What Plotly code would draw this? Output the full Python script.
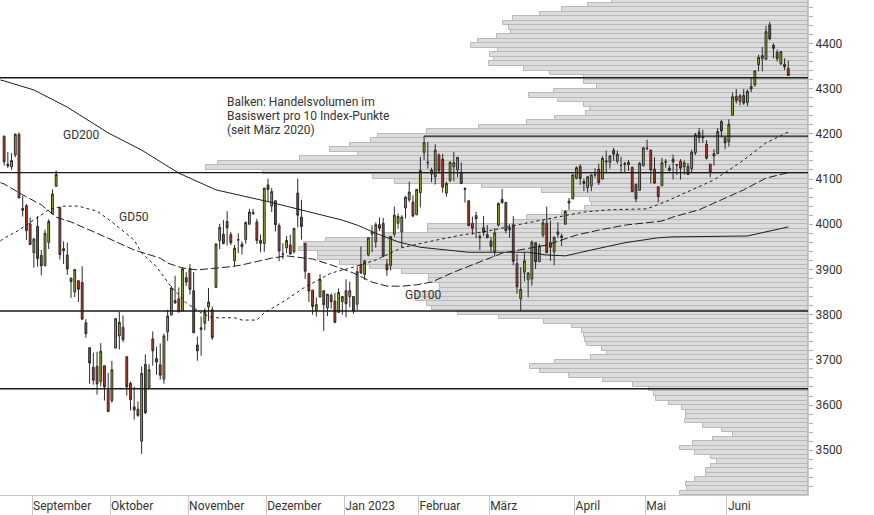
import pandas as pd
import plotly.graph_objects as go

# ---------------- data ----------------
holidays = ["2022-09-05", "2022-11-24", "2022-12-26", "2023-01-02", "2023-01-16",
            "2023-02-20", "2023-04-07", "2023-05-29", "2023-06-19"]
dates = pd.bdate_range("2022-08-22", "2023-06-26", freq="C", holidays=holidays)

month_labels = ["September", "Oktober", "November", "Dezember", "Jan 2023",
                "Februar", "März", "April", "Mai", "Juni"]

opens = [4195, 4133, 4127, 4153, 4199, 4035, 4041, 4001,
         3937, 3995, 3931, 3909, 3960, 4023, 4084, 4037, 3941, 3932, 3881, 3850, 3875, 3871, 3782, 3727, 3683, 3686, 3652, 3687, 3633,
         3610, 3726, 3753, 3772, 3707, 3648, 3596, 3591, 3520, 3690, 3639, 3746, 3703, 3689, 3657, 3762, 3799, 3826, 3835, 3808, 3882,
         3902, 3853, 3733, 3767, 3781, 3817, 3811, 3860, 3964, 3978, 4006, 3977, 3919, 3966, 3956, 3966, 4000, 4023, 4005, 3964, 3957,
         4087, 4040, 4052, 3997, 3933, 3948, 3954, 3939, 4069, 4016, 3958, 3891, 3854, 3810, 3839, 3853, 3815, 3843, 3830, 3805, 3829,
         3853, 3840, 3840, 3823, 3911, 3889, 3932, 3978, 3961, 3999, 4002, 3912, 3909, 3978, 4002, 3983, 4036, 4054, 4049, 4021,
         4070, 4159, 4137, 4120, 4105, 4153, 4144, 4069, 4097, 4127, 4120, 4115, 4077, 4052, 4002, 4019, 3973, 3992, 3977,
         3963, 3939, 3998, 4055, 4048, 3988, 3999, 3913, 3835, 3894, 3877, 3879, 3959, 3917, 3976, 4002, 3959, 3939, 3983, 3974, 4000, 4047, 4056,
         4102, 4128, 4095, 4081, 4085, 4110, 4122, 4100, 4140, 4137, 4164, 4139, 4130, 4132, 4132, 4126, 4088, 4075, 4130,
         4167, 4164, 4122, 4083, 4085, 4137, 4124, 4144, 4132, 4139, 4127, 4128, 4123, 4158, 4204, 4191, 4177, 4133, 4156, 4156, 4227, 4191,
         4183, 4241, 4283, 4272, 4285, 4269, 4305, 4308, 4353, 4366, 4365, 4441, 4396, 4380, 4355, 4354, 4345]
highs = [4195, 4160, 4157, 4201, 4203, 4063, 4045, 4015,
         3970, 4018, 3943, 3988, 4011, 4077, 4119, 4037, 3962, 3959, 3881, 3900, 3876, 3907, 3790, 3727, 3716, 3718, 3737, 3687, 3671,
         3698, 3792, 3807, 3798, 3707, 3652, 3641, 3608, 3685, 3712, 3690, 3763, 3729, 3736, 3758, 3811, 3863, 3886, 3860, 3905, 3894,
         3912, 3894, 3751, 3796, 3814, 3859, 3818, 3958, 4001, 4009, 4029, 3983, 3954, 3980, 3962, 4006, 4034, 4034, 4012, 3977, 4080,
         4101, 4080, 4052, 4002, 3958, 3974, 3977, 3991, 4101, 4054, 3958, 3891, 3855, 3838, 3890, 3853, 3846, 3847, 3848, 3858, 3840,
         3878, 3873, 3840, 3906, 3951, 3920, 3970, 3998, 4004, 4015, 4014, 3923, 3973, 4039, 4024, 4020, 4062, 4094, 4064, 4077,
         4149, 4195, 4182, 4125, 4177, 4157, 4156, 4094, 4139, 4160, 4148, 4137, 4082, 4052, 4017, 4028, 3978, 4018, 3998,
         3972, 3991, 4048, 4078, 4050, 4000, 4018, 3934, 3905, 3937, 3894, 3964, 3959, 3957, 4009, 4039, 4008, 3973, 4004, 3979, 4031, 4058, 4111,
         4128, 4133, 4100, 4107, 4110, 4124, 4134, 4150, 4163, 4152, 4169, 4163, 4149, 4138, 4142, 4126, 4090, 4138, 4170,
         4187, 4164, 4148, 4083, 4147, 4144, 4130, 4154, 4133, 4144, 4141, 4136, 4165, 4202, 4213, 4209, 4186, 4133, 4166, 4213, 4231, 4195,
         4232, 4291, 4299, 4288, 4299, 4298, 4323, 4340, 4375, 4392, 4439, 4448, 4400, 4386, 4382, 4367, 4362]
lows = [4130, 4124, 4120, 4148, 4058, 4017, 3965, 3955,
        3904, 3906, 3887, 3906, 3945, 4023, 4084, 3922, 3912, 3888, 3837, 3839, 3828, 3789, 3749, 3647, 3645, 3623, 3641, 3610, 3584,
        3605, 3726, 3723, 3739, 3621, 3588, 3568, 3574, 3492, 3580, 3639, 3687, 3667, 3656, 3647, 3742, 3799, 3824, 3804, 3808, 3863,
        3844, 3759, 3698, 3709, 3765, 3786, 3744, 3860, 3945, 3956, 3953, 3954, 3907, 3936, 3933, 3957, 3999, 4021, 3956, 3938, 3939,
        4051, 4027, 3984, 3918, 3923, 3936, 3933, 3935, 3993, 3966, 3879, 3828, 3800, 3796, 3839, 3764, 3797, 3813, 3781, 3805, 3800,
        3794, 3816, 3802, 3810, 3890, 3877, 3929, 3938, 3948, 3985, 3927, 3886, 3898, 3972, 3990, 3949, 4013, 4049, 4016, 4020,
        4037, 4142, 4123, 4093, 4088, 4112, 4070, 4061, 4093, 4095, 4104, 4089, 4048, 3995, 3977, 3969, 3943, 3974, 3969,
        3939, 3928, 3995, 4045, 3980, 3970, 3909, 3846, 3809, 3874, 3838, 3864, 3901, 3917, 3971, 3936, 3919, 3909, 3970, 3952, 4000, 4032, 4056,
        4099, 4087, 4073, 4070, 4073, 4103, 4087, 4099, 4113, 4123, 4140, 4134, 4115, 4114, 4118, 4071, 4049, 4075, 4127,
        4164, 4090, 4089, 4048, 4085, 4125, 4117, 4099, 4109, 4099, 4110, 4110, 4114, 4153, 4180, 4180, 4143, 4104, 4130, 4156, 4192, 4166,
        4172, 4241, 4267, 4263, 4264, 4261, 4292, 4304, 4338, 4338, 4363, 4407, 4367, 4360, 4352, 4341, 4328]
closes = [4138, 4129, 4141, 4199, 4058, 4031, 3986, 3955,
          3967, 3924, 3908, 3980, 4006, 4067, 4110, 3933, 3946, 3901, 3873, 3900, 3856, 3790, 3758, 3693, 3655, 3647, 3719, 3640, 3586,
          3678, 3791, 3783, 3745, 3640, 3612, 3589, 3577, 3670, 3583, 3678, 3720, 3695, 3666, 3753, 3797, 3859, 3831, 3807, 3901, 3872,
          3856, 3760, 3720, 3771, 3807, 3828, 3749, 3956, 3993, 3957, 3992, 3959, 3947, 3965, 3950, 4004, 4027, 4026, 3964, 3958, 4080,
          4077, 4072, 3999, 3941, 3934, 3964, 3934, 3991, 4020, 3995, 3896, 3852, 3818, 3822, 3878, 3822, 3845, 3829, 3783, 3849, 3840,
          3824, 3853, 3808, 3895, 3892, 3919, 3970, 3983, 3999, 3991, 3929, 3899, 3973, 4020, 4017, 4016, 4060, 4071, 4018, 4077,
          4119, 4180, 4136, 4111, 4164, 4118, 4082, 4090, 4137, 4136, 4148, 4090, 4079, 3997, 3991, 4012, 3970, 3982, 3970,
          3951, 3981, 4046, 4048, 3986, 3992, 3918, 3862, 3856, 3919, 3892, 3960, 3917, 3952, 4003, 3937, 3949, 3971, 3978, 3971, 4028, 4051, 4109,
          4125, 4101, 4090, 4105, 4109, 4109, 4092, 4146, 4138, 4151, 4155, 4155, 4130, 4134, 4137, 4072, 4056, 4135, 4169,
          4168, 4120, 4091, 4061, 4136, 4138, 4119, 4138, 4131, 4124, 4136, 4110, 4159, 4198, 4192, 4193, 4146, 4115, 4151, 4205, 4206, 4180,
          4221, 4282, 4274, 4284, 4268, 4294, 4299, 4339, 4369, 4373, 4426, 4410, 4389, 4366, 4382, 4348, 4329]

# moving averages (trading-day number, value)
gd200_day = [-1, 0, 8, 17, 28, 37, 47, 57, 71, 80, 86, 91, 95, 100, 106, 112, 125, 141, 146, 151, 158, 167, 176, 180, 200, 211]
gd200_val = [4319, 4317, 4297, 4259, 4202, 4164, 4113, 4076, 4050, 4032, 4020, 4009, 3998, 3980, 3961, 3949, 3938, 3938,
             3932, 3930, 3943, 3959, 3970, 3972, 3974, 3994]
gd100_day = [-1, 0, 5, 10, 14, 18, 25, 35, 42, 44, 48, 52, 61, 64, 72, 76, 83, 88, 94, 99, 103, 107, 111, 115, 121, 128,
             134, 142, 146, 154, 160, 167, 177, 180, 187, 193, 199, 205, 211]
gd100_val = [4092, 4089, 4065, 4043, 4016, 4005, 3980, 3943, 3925, 3914, 3903, 3899, 3906, 3910, 3925, 3930, 3923, 3910,
             3892, 3872, 3863, 3863, 3866, 3872, 3894, 3917, 3936, 3948, 3954, 3976, 3987, 3998, 4007, 4016, 4032, 4054,
             4076, 4102, 4114]
gd50_day = [-1, 0, 4, 9, 12, 16, 20, 25, 29, 35, 37, 41, 45, 49, 53, 56, 62, 64, 68, 70, 75, 81, 88, 94, 100, 107, 114,
            123, 129, 142, 152, 156, 163, 173, 178, 185, 191, 198, 205, 211]
gd50_val = [3963, 3969, 3987, 4016, 4032, 4040, 4040, 4029, 4005, 3965, 3936, 3906, 3861, 3826, 3804, 3793, 3793, 3788,
            3788, 3804, 3828, 3861, 3892, 3905, 3921, 3948, 3961, 3976, 3983, 4005, 4021, 4027, 4032, 4034, 4050, 4076,
            4098, 4136, 4180, 4204]

# volume profile: traded volume per 10-point band (bands starting at 3400)
vol_band_start = list(range(3400, 4500, 10))
vol = [128, 121, 122, 113, 102, 102, 97, 91, 97, 113, 128, 115, 95, 75, 86, 105, 123, 122, 122, 126,
       139, 152, 154, 159, 175, 205, 239, 268, 278, 253, 217, 201, 206, 221, 223, 224, 226, 236, 264, 309,
       350, 376, 381, 392, 392, 368, 368, 379, 379, 406, 438, 468, 490, 490, 509, 504, 482, 423, 380, 380,
       294, 281, 246, 223, 216, 218, 233, 266, 326, 413, 435, 545, 602, 590, 508, 450, 478, 458, 437, 430,
       381, 329, 281, 253, 222, 218, 224, 250, 279, 254, 211, 224, 224, 258, 284, 319, 314, 318, 310, 337,
       330, 311, 297, 299, 305, 295, 268, 246, 220, 196]

levels_full = [4324, 4114, 3808, 3636]
level_feb_high = 4195
level_feb_date = "2023-02-02"

note_lines = ["Balken: Handelsvolumen im", "Basiswert pro 10 Index-Punkte", "(seit März 2020)"]

# ---------------- figure ----------------
x = list(range(len(dates)))
month_ticks = [i - 0.5 for i in range(1, len(dates)) if dates[i].month != dates[i - 1].month]
feb_idx = list(dates).index(pd.Timestamp(level_feb_date))

FONT = "Roboto"
ink = "#2a2a2a"

fig = go.Figure()

fig.add_trace(go.Bar(
    orientation="h", y=[b + 5 for b in vol_band_start], x=vol, width=10,
    marker=dict(color="#dcdcdc", line=dict(color="#b9b9b9", width=1)),
    xaxis="x", yaxis="y", hoverinfo="skip", showlegend=False))

for d, v, dash in [(gd200_day, gd200_val, "solid"),
                   (gd100_day, gd100_val, "8px,3px"),
                   (gd50_day, gd50_val, "3px,3px")]:
    fig.add_trace(go.Scatter(x=d, y=v, mode="lines", xaxis="x2", yaxis="y",
                             line=dict(color="#1e1e1e", width=1, dash=dash),
                             showlegend=False, hoverinfo="skip"))

fig.add_trace(go.Candlestick(
    x=x, open=opens, high=highs, low=lows, close=closes, xaxis="x2", yaxis="y",
    increasing=dict(fillcolor="#9cb61f", line=dict(color=ink, width=1)),
    decreasing=dict(fillcolor="#c43a25", line=dict(color=ink, width=1)),
    whiskerwidth=0, showlegend=False))

xr = [-1.11, 216.3]
shapes = []
for lv in levels_full:
    shapes.append(dict(type="line", xref="x2 domain", x0=0, x1=1, yref="y", y0=lv, y1=lv,
                       line=dict(color="#1a1a1a", width=1.3), layer="above"))
shapes.append(dict(type="line", xref="x2", x0=feb_idx, x1=xr[1], yref="y",
                   y0=level_feb_high, y1=level_feb_high,
                   line=dict(color="#1a1a1a", width=1.3), layer="above"))

annotations = []
for i, t in enumerate(note_lines):
    annotations.append(dict(text=t, xref="paper", yref="paper", x=0.279, y=0.7945 - i * 0.0283,
                            xanchor="left", yanchor="middle", showarrow=False,
                            font=dict(family=FONT, size=12, color="#333")))
for t, px, py in [("GD200", 0.076, 0.727), ("GD50", 0.145, 0.562), ("GD100", 0.499, 0.404)]:
    annotations.append(dict(text=t, xref="paper", yref="paper", x=px, y=py, xanchor="left",
                            yanchor="middle", showarrow=False,
                            font=dict(family=FONT, size=12, color="#333")))

fig.update_layout(
    template="none",
    width=874, height=515,
    margin=dict(l=0, r=66, t=0, b=20, autoexpand=False),
    paper_bgcolor="white", plot_bgcolor="white",
    font=dict(family=FONT, size=12, color="#333"),
    showlegend=False, bargap=0,
    xaxis=dict(range=[808, 0], visible=False, fixedrange=True, automargin=False),
    xaxis2=dict(overlaying="x", anchor="y", side="bottom", range=xr, automargin=False,
                tickvals=month_ticks, ticktext=month_labels,
                ticks="outside", ticklen=20, tickcolor="#c8c8c8", tickwidth=1,
                ticklabelposition="outside right", ticklabelstandoff=0,
                tickfont=dict(family=FONT, size=12, color="#333"),
                showline=True, linecolor="#c8c8c8", linewidth=1,
                showgrid=False, zeroline=False, rangeslider=dict(visible=False)),
    yaxis=dict(side="right", range=[3401, 4496], tick0=0, dtick=100, automargin=False,
               ticks="outside", ticklen=4, tickcolor="#b0b0b0",
               minor=dict(dtick=20, ticks="outside", ticklen=4, tickcolor="#b0b0b0"),
               showline=True, linecolor="#c8c8c8", linewidth=1,
               showgrid=False, zeroline=False,
               tickfont=dict(family=FONT, size=12, color="#333")),
    shapes=shapes, annotations=annotations,
)

fig.write_html("out.html", config={"displayModeBar": False},
               post_script="document.body.style.margin='0';document.body.style.overflow='hidden';")
